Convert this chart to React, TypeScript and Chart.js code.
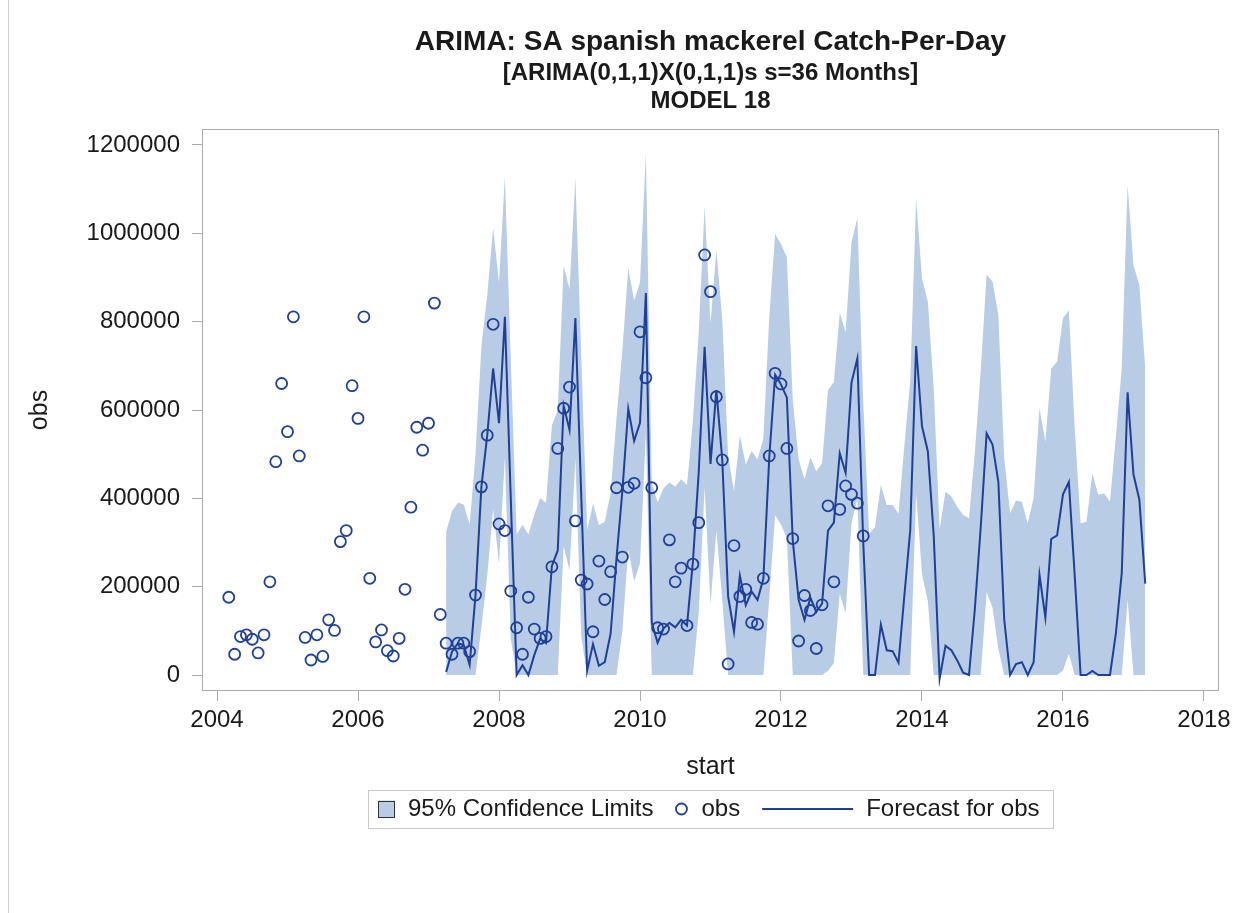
import React, { useEffect, useRef } from "react";
import { Chart, registerables } from "chart.js";

Chart.register(...registerables);

// ---------- text ----------
const TITLE_LINES = [
  "ARIMA: SA spanish mackerel Catch-Per-Day",
  "[ARIMA(0,1,1)X(0,1,1)s s=36 Months]",
  "MODEL 18",
];
const X_TITLE = "start";
const Y_TITLE = "obs";
const LEGEND_LABELS = ["95% Confidence Limits", "obs", "Forecast for obs"];

// ---------- axes ----------
const X_TICK_YEARS = [2004, 2006, 2008, 2010, 2012, 2014, 2016, 2018];
const Y_TICK_VALUES = [0, 200000, 400000, 600000, 800000, 1000000, 1200000];
const X_RANGE = [2003.787, 2018.213];
const Y_RANGE = [-36200, 1236200];

// ---------- data (values in thousands, monthly) ----------
const UNIT = 1000;
const OBS_START = [2004, 3]; // Mar 2004
const FORECAST_START = [2007, 4]; // Apr 2007

const obsK = [
  176, 47, 87, 91, 81, 50, 91, 211, 483, 660,
  551, 811, 496, 85, 34, 91, 42, 125, 101, 302, 327, 655,
  581, 811, 219, 75, 102, 55, 43, 83, 194, 380, 561, 509,
  570, 842, 137, 72, 47, 72, 72, 53, 181, 426, 543, 794,
  342, 327, 190, 107, 47, 176, 104, 83, 87, 245, 513, 604,
  652, 349, 215, 206, 98, 258, 171, 234, 424, 267, 425, 434,
  777, 673, 424, 107, 104, 306, 211, 242, 112, 251, 345, 951,
  868, 630, 487, 25, 293, 178, 194, 119, 115, 219, 496, 683,
  659, 513, 309, 77, 180, 146, 60, 159, 383, 211, 375, 428,
  409, 389, 315,
];

const forecastK = [
  7, 53, 72, 68, 23, 181, 426, 543, 694,
  570, 811, 400, 0, 22, 0, 45, 82, 72, 247, 282, 610,
  555, 808, 405, 10, 70, 21, 29, 94, 264, 417, 603, 530,
  571, 865, 118, 73, 105, 118, 108, 125, 112, 256, 460, 743,
  478, 645, 488, 178, 98, 225, 158, 189, 170, 218, 492, 680,
  658, 628, 305, 170, 125, 175, 143, 162, 327, 345, 502, 458,
  662, 717, 300, 0, 0, 114, 56, 54, 28, 180, 328, 745,
  563, 506, 315, -8, 66, 56, 33, 5, 0, 150, 335, 547,
  522, 437, 125, 0, 25, 29, 0, 29, 227, 130, 308, 316,
  409, 437, 224, 0, 0, 9, 0, 0, 0, 94, 231, 640,
  454, 397, 207,
];

const upperK = [
  325, 371, 390, 386, 341, 499, 744, 861, 1012,
  888, 1129, 718, 318, 340, 318, 363, 400, 390, 565, 600, 928,
  873, 1126, 723, 328, 388, 339, 347, 412, 582, 735, 921, 848,
  889, 1183, 436, 391, 423, 436, 426, 443, 430, 574, 778, 1061,
  796, 963, 806, 496, 416, 543, 476, 507, 488, 536, 810, 998,
  976, 946, 623, 488, 443, 493, 461, 480, 645, 663, 820, 776,
  980, 1035, 618, 320, 335, 430, 385, 385, 365, 520, 665, 1079,
  898, 845, 650, 330, 415, 404, 381, 362, 355, 505, 690, 906,
  891, 815, 490, 366, 395, 392, 343, 400, 604, 528, 694, 709,
  808, 826, 560, 343, 347, 457, 408, 411, 393, 540, 694, 1109,
  928, 883, 694,
];

const lowerK = [
  0, 0, 0, 0, 0, 0, 108, 225, 376,
  252, 493, 82, 0, 0, 0, 0, 0, 0, 0, 0, 292,
  237, 490, 87, 0, 0, 0, 0, 0, 0, 99, 285, 212,
  253, 547, 0, 0, 0, 0, 0, 0, 0, 0, 142, 425,
  160, 327, 170, 0, 0, 0, 0, 0, 0, 0, 174, 362,
  340, 310, 0, 0, 0, 0, 0, 0, 9, 27, 184, 140,
  344, 399, 0, 0, 0, 0, 0, 0, 0, 0, 0, 411,
  228, 167, 0, 0, 0, 0, 0, 0, 0, 0, 0, 188,
  153, 59, 0, 0, 0, 0, 0, 0, 0, 0, 0, 0,
  10, 48, 0, 0, 0, 0, 0, 0, 0, 0, 0, 171,
  0, 0, 0,
];

// ---------- style ----------
const FONT = "'Liberation Sans', Arial, Helvetica, sans-serif";
const TEXT_COLOR = "#1a1a1a";
const FRAME_COLOR = "#A6AAAE";
const BAND_COLOR = "#B8CCE5";
const LINE_COLOR = "#1F3F98";

const monthPositions = (start: number[], count: number) =>
  Array.from({ length: count }, (_, k) => start[0] + (start[1] - 1 + k) / 12);

const toPoints = (start: number[], values: number[]) => {
  const xs = monthPositions(start, values.length);
  return values.map((v, k) => ({ x: xs[k], y: v * UNIT }));
};

const decorPlugin = {
  id: "sasDecor",
  afterDatasetsDraw(chart: any) {
    const { ctx, chartArea } = chart;
    const { left, top, right, bottom } = chartArea;
    ctx.save();
    ctx.strokeStyle = FRAME_COLOR;
    ctx.lineWidth = 1;
    ctx.strokeRect(left + 0.5, top + 0.5, right - left - 1, bottom - top - 1);
    ctx.restore();
  },
  afterDraw(chart: any) {
    const { ctx, chartArea } = chart;
    const cx = (chartArea.left + chartArea.right) / 2;
    ctx.save();
    // page border on the left
    ctx.fillStyle = "#CFCFCF";
    ctx.fillRect(8, 0, 1, chart.height);

    // titles
    ctx.fillStyle = TEXT_COLOR;
    ctx.textAlign = "center";
    ctx.textBaseline = "middle";
    const titleFonts = [`bold 28px ${FONT}`, `bold 24px ${FONT}`, `bold 24px ${FONT}`];
    const titleY = [42, 73, 101];
    TITLE_LINES.forEach((t, i) => {
      ctx.font = titleFonts[i];
      ctx.fillText(t, cx, titleY[i]);
    });

    // legend
    ctx.font = `24px ${FONT}`;
    const w = LEGEND_LABELS.map((t) => ctx.measureText(t).width);
    const padL = 10, padR = 13, sw = 17, g1 = 13, g2 = 22, mk = 12, g3 = 14, g4 = 22, ln = 91, g5 = 13;
    const total = padL + sw + g1 + w[0] + g2 + mk + g3 + w[1] + g4 + ln + g5 + w[2] + padR;
    const bx = Math.round(cx - total / 2);
    const cy = 809;
    const bh = 38;
    ctx.strokeStyle = "#C9C9C9";
    ctx.lineWidth = 1;
    ctx.strokeRect(bx + 0.5, Math.round(cy - bh / 2) + 0.5, Math.round(total), bh);

    let x = bx + padL;
    ctx.fillStyle = BAND_COLOR;
    ctx.fillRect(x, cy - sw / 2, sw, sw);
    ctx.strokeStyle = "#333333";
    ctx.lineWidth = 1;
    ctx.strokeRect(x + 0.5, Math.round(cy - sw / 2) + 0.5, sw - 1, sw - 1);
    x += sw + g1;
    ctx.fillStyle = TEXT_COLOR;
    ctx.textAlign = "left";
    ctx.textBaseline = "middle";
    ctx.fillText(LEGEND_LABELS[0], x, cy);
    x += w[0] + g2;
    ctx.beginPath();
    ctx.arc(x + mk / 2, cy, 5.5, 0, Math.PI * 2);
    ctx.strokeStyle = LINE_COLOR;
    ctx.lineWidth = 1.8;
    ctx.stroke();
    x += mk + g3;
    ctx.fillText(LEGEND_LABELS[1], x, cy);
    x += w[1] + g4;
    ctx.beginPath();
    ctx.moveTo(x, cy);
    ctx.lineTo(x + ln, cy);
    ctx.strokeStyle = LINE_COLOR;
    ctx.lineWidth = 2;
    ctx.stroke();
    x += ln + g5;
    ctx.fillText(LEGEND_LABELS[2], x, cy);
    ctx.restore();
  },
};

export default function App() {
  const canvasRef = useRef<HTMLCanvasElement | null>(null);

  useEffect(() => {
    const canvas = canvasRef.current;
    if (!canvas) return;

    const chart = new Chart(canvas, {
      type: "line",
      data: {
        datasets: [
          {
            label: LEGEND_LABELS[1],
            data: toPoints(OBS_START, obsK),
            showLine: false,
            pointStyle: "circle",
            pointRadius: 5.5,
            pointBorderWidth: 1.8,
            pointBackgroundColor: "rgba(0,0,0,0)",
            pointBorderColor: LINE_COLOR,
            borderColor: LINE_COLOR,
            fill: false,
          },
          {
            label: LEGEND_LABELS[2],
            data: toPoints(FORECAST_START, forecastK),
            borderColor: LINE_COLOR,
            borderWidth: 2,
            pointRadius: 0,
            tension: 0,
            fill: false,
          },
          {
            label: "upper",
            data: toPoints(FORECAST_START, upperK),
            borderColor: "rgba(0,0,0,0)",
            borderWidth: 1,
            pointRadius: 0,
            backgroundColor: BAND_COLOR,
            fill: "+1",
            tension: 0,
          },
          {
            label: "lower",
            data: toPoints(FORECAST_START, lowerK),
            borderColor: "rgba(0,0,0,0)",
            borderWidth: 1,
            pointRadius: 0,
            fill: false,
            tension: 0,
          },
        ],
      },
      options: {
        animation: false,
        responsive: false,
        maintainAspectRatio: false,
        devicePixelRatio: 1,
        layout: { padding: { left: 0, top: 129, right: 30, bottom: 0 } },
        plugins: {
          legend: { display: false },
          title: { display: false },
          tooltip: { enabled: false },
        },
        scales: {
          x: {
            type: "linear",
            min: X_RANGE[0],
            max: X_RANGE[1],
            afterBuildTicks: (scale: any) => {
              scale.ticks = X_TICK_YEARS.map((v) => ({ value: v }));
            },
            afterFit: (scale: any) => {
              scale.height = 222;
            },
            grid: {
              display: true,
              drawOnChartArea: false,
              drawTicks: true,
              tickLength: 10,
              color: FRAME_COLOR,
            },
            border: { display: false },
            ticks: {
              autoSkip: false,
              maxRotation: 0,
              padding: 5,
              color: TEXT_COLOR,
              font: { family: FONT, size: 24 },
              callback: (v: any) => String(v),
            },
            title: {
              display: true,
              text: X_TITLE,
              color: TEXT_COLOR,
              font: { family: FONT, size: 25 },
              padding: { top: 0, bottom: 131 },
            },
          },
          y: {
            type: "linear",
            min: Y_RANGE[0],
            max: Y_RANGE[1],
            afterBuildTicks: (scale: any) => {
              scale.ticks = Y_TICK_VALUES.map((v) => ({ value: v }));
            },
            afterFit: (scale: any) => {
              scale.width = 202;
            },
            grid: {
              display: true,
              drawOnChartArea: false,
              drawTicks: true,
              tickLength: 10,
              color: FRAME_COLOR,
            },
            border: { display: false },
            ticks: {
              autoSkip: false,
              padding: 12,
              color: TEXT_COLOR,
              font: { family: FONT, size: 24 },
              callback: (v: any) => String(v),
            },
            title: {
              display: true,
              text: Y_TITLE,
              color: TEXT_COLOR,
              font: { family: FONT, size: 25 },
              padding: { top: 25, bottom: 0 },
            },
          },
        },
      },
      plugins: [decorPlugin],
    } as any);

    return () => chart.destroy();
  }, []);

  return (
    <div
      style={{
        position: "fixed",
        left: 0,
        top: 0,
        width: 1249,
        height: 913,
        background: "#ffffff",
      }}
    >
      <canvas
        ref={canvasRef}
        width={1249}
        height={913}
        style={{ display: "block", width: 1249, height: 913 }}
      />
    </div>
  );
}
